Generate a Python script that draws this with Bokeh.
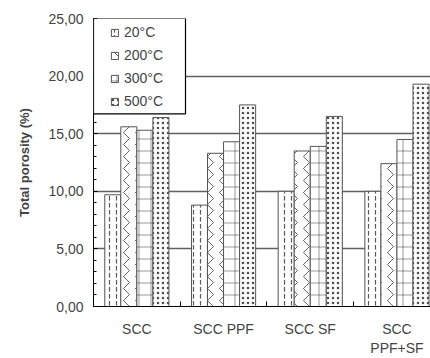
from bokeh.plotting import figure
from bokeh.models import (Range1d, FixedTicker, Legend, LegendItem,
                          ColumnDataSource, BoxAnnotation, Title)
from bokeh.embed import file_html
from bokeh.resources import INLINE

# Mixes (x categories) and exposure temperatures (series)
mixes = ["SCC", "SCC PPF", "SCC SF", "SCC\nPPF+SF"]
temps = ["20°C", "200°C", "300°C", "500°C"]

# Total porosity (%) per mix, one list per temperature
porosity_20 = [9.7, 8.8, 10.0, 10.0]
porosity_200 = [15.6, 13.3, 13.5, 12.4]
porosity_300 = [15.3, 14.3, 13.9, 14.5]
porosity_500 = [16.4, 17.5, 16.5, 19.3]

y_ticks = [0, 5, 10, 15, 20, 25]
y_tick_labels = ["0,00", "5,00", "10,00", "15,00", "20,00", "25,00"]

series = [porosity_20, porosity_200, porosity_300, porosity_500]

# Hatch styles per temperature
hatches = [
    dict(hatch_pattern=":", hatch_scale=7, hatch_weight=1.2, hatch_alpha=0.65),
    dict(hatch_pattern=">", hatch_scale=12, hatch_weight=0.8, hatch_alpha=0.75),
    dict(hatch_pattern="+", hatch_scale=12, hatch_weight=0.8, hatch_alpha=0.5),
    dict(hatch_pattern=".", hatch_scale=5, hatch_weight=1.0, hatch_alpha=0.7),
]

FONT = "Liberation Sans"
W, H = 430, 358
LEFT, RIGHT, TOP, BOTTOM = 93, 0, 18, 50
GROUP_PX = 86.7
frame_w = W - LEFT - RIGHT
frame_h = H - TOP - BOTTOM
x_end = frame_w / GROUP_PX
y_end = 25

p = figure(width=W, height=H, output_backend="svg", toolbar_location=None,
           x_range=Range1d(0, x_end), y_range=Range1d(0, y_end),
           min_border_left=LEFT, min_border_right=RIGHT,
           min_border_top=TOP, min_border_bottom=BOTTOM)
p.outline_line_color = None
p.background_fill_color = "white"
p.border_fill_color = "white"

bar_w = 0.185
renderers = []
for k, vals in enumerate(series):
    xs = [i + 0.5 + (k - 1.5) * bar_w for i in range(len(mixes))]
    src = ColumnDataSource(dict(x=xs, top=vals))
    r = p.vbar(x="x", top="top", width=bar_w, bottom=0, source=src,
               fill_color="white", line_color="#555555", line_width=1,
               hatch_color="black", **hatches[k])
    renderers.append(r)

# Y axis
p.yaxis.ticker = FixedTicker(ticks=y_ticks, minor_ticks=list(range(0, 26)))
p.yaxis.major_label_overrides = dict(zip(y_ticks, y_tick_labels))
p.yaxis.major_tick_in = 4
p.yaxis.major_tick_out = 0
p.yaxis.minor_tick_in = 3
p.yaxis.minor_tick_out = 0
p.yaxis.major_label_text_font = FONT
p.yaxis.major_label_text_font_size = "14px"
p.yaxis.major_label_standoff = 10
p.yaxis.axis_line_color = "black"

# Y axis title, nudged slightly upward
ytitle = Title(text="Total porosity (%)", align="center", offset=15,
               text_font=FONT, text_font_style="bold",
               text_font_size="13px", standoff=28)
p.add_layout(ytitle, "left")

# X axis: labels at group centres, small ticks between groups
centers = [i + 0.5 for i in range(len(mixes))]
p.xaxis.ticker = FixedTicker(ticks=centers,
                             minor_ticks=[i for i in range(1, len(mixes))])
p.xaxis.major_label_overrides = dict(zip(centers, mixes))
p.xaxis.major_tick_in = 0
p.xaxis.major_tick_out = 0
p.xaxis.minor_tick_in = 5
p.xaxis.minor_tick_out = 0
p.xaxis.major_label_text_font = FONT
p.xaxis.major_label_text_font_size = "14px"
p.xaxis.major_label_standoff = 14
p.xaxis.axis_line_color = "black"

# Grid
p.xgrid.visible = False
p.ygrid.ticker = FixedTicker(ticks=[5, 10, 15, 20, 25])
p.ygrid.grid_line_color = "#606060"
p.ygrid.grid_line_width = 1.3

# Legend frame (drawn behind the legend entries)
LEG_W_PX, LEG_H_PX = 92, 96
box = BoxAnnotation(left=0, right=LEG_W_PX / frame_w * x_end,
                    top=y_end, bottom=y_end - LEG_H_PX / frame_h * y_end,
                    fill_color="white", fill_alpha=1.0,
                    line_color="black", line_width=1.2, line_alpha=1.0)
p.add_layout(box)

legend = Legend(items=[LegendItem(label=t, renderers=[r])
                       for t, r in zip(temps, renderers)],
                location=(17, frame_h - 1 - 93),
                padding=3, spacing=5, label_height=18,
                glyph_width=9, glyph_height=9, label_standoff=5,
                border_line_color=None, background_fill_alpha=0,
                label_text_font=FONT, label_text_font_size="14px")
p.add_layout(legend)

open("out.html", "w").write(file_html(p, INLINE))
